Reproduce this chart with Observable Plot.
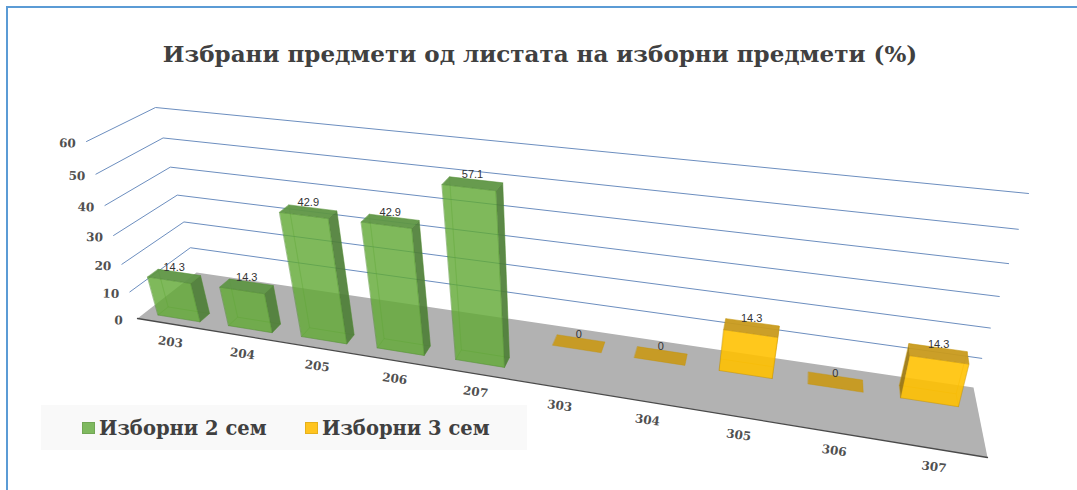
<!DOCTYPE html>
<html><head><meta charset="utf-8">
<script src="https://cdn.jsdelivr.net/npm/d3@7"></script>
<script src="https://cdn.jsdelivr.net/npm/@observablehq/plot@0.6"></script>
<style>
html,body{margin:0;padding:0;background:#fff}
#frame{position:relative;width:1077px;height:490px;overflow:hidden}
#border{position:absolute;left:6px;top:6px;width:1071px;height:484px;border-left:2px solid #5B9BD5;border-top:2px solid #5B9BD5;box-sizing:border-box}
#chart{position:absolute;left:0;top:0}
#title{position:absolute;left:0;width:1080px;top:40px;text-align:center;font:bold 23px "DejaVu Serif",serif;color:#404040;white-space:nowrap}
#legend{position:absolute;left:41px;top:405px;width:486px;height:45px;background:#f9f9f9;font:bold 19.5px "DejaVu Serif",serif;color:#404040}
#legend span{position:absolute;top:12px;white-space:nowrap}
#legend i{position:absolute;top:17px;width:13px;height:12px;box-sizing:border-box;border:1px solid rgba(0,0,0,.1)}
</style></head><body>
<div id="frame">
<div id="border"></div>
<div id="chart"></div>
<div id="title">Избрани предмети од листата на изборни предмети (%)</div>
<div id="legend"><i style="left:41px;background:#7FB95F"></i><span style="left:58px">Изборни 2 сем</span><i style="left:264px;background:#FFC41F"></i><span style="left:281px">Изборни 3 сем</span></div>
</div>
<script>
const categories = ["203","204","205","206","207","303","304","305","306","307"];
const series2 = [14.3,14.3,42.9,42.9,57.1,null,null,null,null,null];
const series3 = [null,null,null,null,null,0,0,14.3,0,14.3];
const valueTicks = [0,10,20,30,40,50,60];
const valueMax = 60;

// 3-D view of the chart box
const floorFL=[137,318], floorFR=[987,457], floorBL=[196,272], floorBR=[973,387];
const roofFL=[86,141], roofFR=[1030,252], roofBL=[155,107], roofBR=[1028,193];
const widthPersp=1.227, heightPersp=1.132;
const lerp=(a,b,t)=>[a[0]+(b[0]-a[0])*t,a[1]+(b[1]-a[1])*t];
const persp=(s,k)=>s/(s+k*(1-s));
function project(s,depth,value){
  const u=persp(s,widthPersp), t=persp(value/valueMax,heightPersp);
  const bottom=lerp(lerp(floorFL,floorFR,u),lerp(floorBL,floorBR,u),depth);
  const top=lerp(lerp(roofFL,roofFR,u),lerp(roofBL,roofBR,u),depth);
  return lerp(bottom,top,t);
}

const halfWidth=0.03;
// each series' slab of depth: front position at the left, drift across the width, thickness, sideways skew
const slabs={two:{front:0.115,drift:0.17,thick:0.175,skew:-0.009},three:{front:0.655,drift:0.03,thick:0.185,skew:0}};
function barFaces(values,key){
  const slab=slabs[key], out={hidden:[],side:[],front:[],top:[]};
  values.forEach((v,i)=>{
    if(v==null) return;
    const c0=(i+.5)/categories.length, u=persp(c0,widthPersp), c=c0+slab.skew*u, s0=c-halfWidth, s1=c+halfWidth;
    const d0=slab.front+slab.drift*u, d1=d0+slab.thick;
    const P=(s,d,val)=>{const p=project(s,d,val);return {x:p[0],y:p[1]};};
    const face=(kind,name,pts)=>pts.forEach(p=>out[kind].push({...p,id:`${i}-${name}`}));
    face("top","top",[P(s0,d0,v),P(s1,d0,v),P(s1,d1,v),P(s0,d1,v)]);
    if(v===0) return;
    face("hidden","bottom",[P(s0,d0,0),P(s1,d0,0),P(s1,d1,0),P(s0,d1,0)]);
    face("hidden","back",[P(s0,d1,0),P(s1,d1,0),P(s1,d1,v),P(s0,d1,v)]);
    const fl=P(s0,d0,0), bl=P(s0,d1,0), fr=P(s1,d0,0), br=P(s1,d1,0);
    face(bl.x<fl.x?"side":"hidden","left",[P(s0,d0,0),P(s0,d1,0),P(s0,d1,v),P(s0,d0,v)]);
    face(br.x>fr.x+3?"side":"hidden","right",[P(s1,d0,0),P(s1,d1,0),P(s1,d1,v),P(s1,d0,v)]);
    face("front","front",[P(s0,d0,0),P(s1,d0,0),P(s1,d0,v),P(s0,d0,v)]);
  });
  return out;
}
const polyMark=(pts,o)=>Plot.line(pts,{x:"x",y:"y",z:"id",curve:"linear-closed",...o});
function barMarks(f,c){
  return [
    polyMark(f.hidden,{fill:c.base,fillOpacity:.1,stroke:c.edge,strokeOpacity:.35,strokeWidth:.7}),
    polyMark(f.side,{fill:c.side,fillOpacity:.92,stroke:c.edge,strokeOpacity:.5,strokeWidth:.7}),
    polyMark(f.front,{fill:c.base,fillOpacity:c.alpha,stroke:c.edge,strokeOpacity:.5,strokeWidth:.7}),
    polyMark(f.top,{fill:c.top,fillOpacity:.95,stroke:c.edge,strokeOpacity:.5,strokeWidth:.7})
  ];
}
const green={base:"#63AA37",side:"#4F7F38",top:"#5F9646",edge:"#4E8A2E",alpha:.8};
const gold={base:"#FFC000",side:"#9A7612",top:"#C89A1E",edge:"#BF9000",alpha:.88};

const floor=[floorFL,floorFR,floorBR,floorBL].map(p=>({x:p[0],y:p[1],id:"floor"}));
const gridLines=valueTicks.filter(v=>v>0).flatMap(v=>[[0,0],[0,1],[1,1]].map(([s,d])=>{
  const p=project(s,d,v);return {x:p[0],y:p[1],v};
}));
const valueLabels=valueTicks.map(v=>{const p=project(0,0,v);return {x:p[0],y:p[1],label:String(v)};});
const catLabels=categories.map((c,i)=>{const p=project((i+.5)/categories.length,0,0);return {x:p[0],y:p[1],label:c};});
const barLabels=[];
[[series2,"two"],[series3,"three"]].forEach(([vals,key])=>vals.forEach((v,i)=>{
  if(v==null) return;
  const c0=(i+.5)/categories.length, slab=slabs[key], u=persp(c0,widthPersp);
  const p=project(c0+slab.skew*u,slab.front+slab.drift*u+slab.thick/2,v);
  barLabels.push({x:p[0],y:p[1],label:String(v)});
}));
const f2=barFaces(series2,"two"), f3=barFaces(series3,"three");
const serif='"DejaVu Serif",serif';

const chart=Plot.plot({
  width:1077,height:490,margin:0,
  x:{domain:[0,1077],range:[0,1077],axis:null},
  y:{domain:[0,490],range:[0,490],axis:null},
  marks:[
    polyMark(floor,{fill:"#B2B2B2",stroke:"none"}),
    Plot.line(floor.slice(0,2),{x:"x",y:"y",stroke:"#4a4a4a",strokeWidth:1.3}),
    Plot.line(gridLines,{x:"x",y:"y",z:"v",stroke:"#6C8EBF",strokeWidth:1}),
    ...barMarks(f3,gold),
    ...barMarks(f2,green),
    Plot.text(barLabels,{x:"x",y:"y",text:"label",dy:-9,fontSize:11,fontFamily:"Liberation Sans",fill:"#333",stroke:"none"}),
    Plot.text(valueLabels,{x:"x",y:"y",text:"label",dx:-19,dy:2,fontSize:12,fontWeight:"bold",fontFamily:serif,fill:"#505050",rotate:2}),
    Plot.text(catLabels,{x:"x",y:"y",text:"label",dx:-2,dy:18,fontSize:12,fontWeight:"bold",fontFamily:serif,fill:"#505050",rotate:8})
  ]
});
document.getElementById("chart").append(chart);
</script>
</body></html>
